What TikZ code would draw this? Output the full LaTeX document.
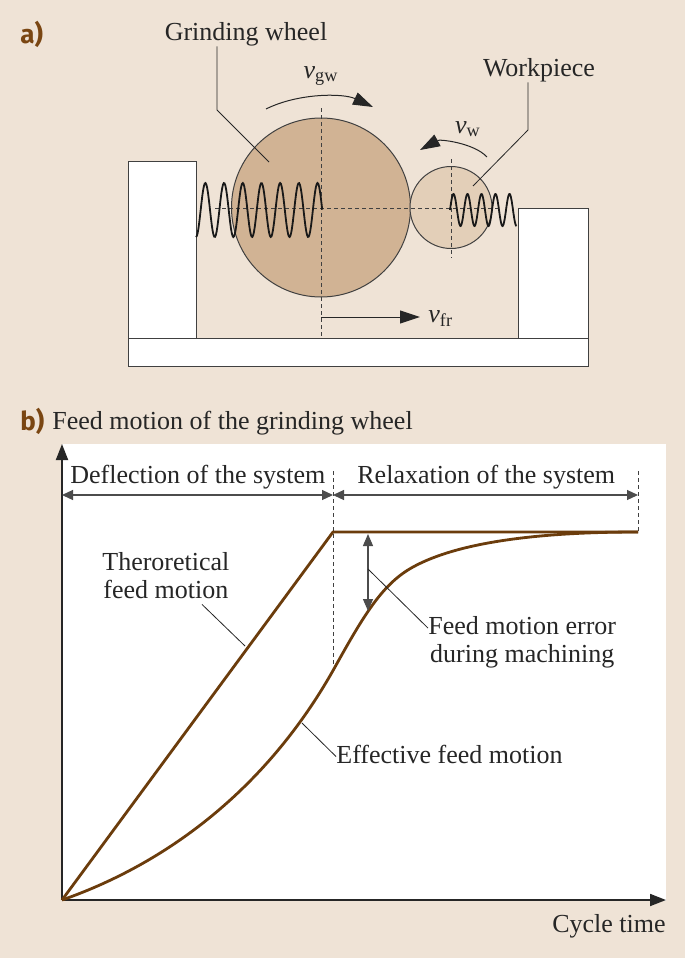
\documentclass[tikz,border=0pt]{standalone}
\usepackage{fontspec}
\setmainfont{Liberation Serif}
\newfontfamily\tagfont{Fira Sans}
\usetikzlibrary{arrows.meta,positioning}
\definecolor{paper}{HTML}{EFE3D6}
\definecolor{wheelfill}{HTML}{D1B394}
\definecolor{workfill}{HTML}{E3CFB8}
\definecolor{feedbrown}{HTML}{6B3C0C}
\definecolor{tagbrown}{HTML}{7A4612}
\definecolor{ink}{HTML}{262626}
\tikzstyle{txt} = [inner sep=0pt, text height=9.5pt, text depth=3pt, text=ink,
     font=\fontsize{13}{15}\selectfont]
\tikzstyle{tag} = [inner sep=0pt, text=tagbrown, font=\tagfont\bfseries\fontsize{13}{15}\selectfont]
\tikzstyle{block} = [draw=black!75, fill=white, line width=0.5pt]
\tikzstyle{disc} = [circle, draw=black!75, line width=0.5pt, inner sep=0pt]
\tikzstyle{centre} = [draw=black!75, line width=0.5pt, dash pattern=on 2pt off 1.5pt]
\tikzstyle{spring} = [draw=black!90, line width=0.9pt]
\tikzstyle{lead} = [draw=ink, line width=0.4pt]
\tikzstyle{spin} = [draw=ink, line width=0.5pt, -{Triangle[length=10pt,width=6.5pt]}]
\tikzstyle{feed} = [draw=feedbrown, line width=1.4pt, line join=round]
\tikzstyle{axis} = [draw=ink, line width=0.9pt, -{Triangle[length=8pt,width=6pt]}]
\tikzstyle{dim} = [draw=black!70, line width=0.6pt,
     {Triangle[length=5.5pt,width=5pt]}-{Triangle[length=5.5pt,width=5pt]}]
\tikzstyle{gap} = [draw=black!70, line width=0.6pt,
     {Triangle[length=6pt,width=5pt]}-{Triangle[length=6pt,width=5pt]}]

\begin{document}
\begin{tikzpicture}[x=0.5pt,y=-0.5pt]
\useasboundingbox (0,0) rectangle (685,958);
\fill[paper] (0,0) rectangle (685,958);

% a) grinding set-up
\node (tag_a) [tag, anchor=base west] at (20,43) {a)};
\draw[block] (128,338) rectangle (588,366);
\draw[block] (128,161) rectangle (196,338);
\draw[block] (518,208) rectangle (588,338);
\node (wheel) [disc, fill=wheelfill, minimum size=89.5pt] at (321,207.5) {};
\node (work) [disc, fill=workfill, minimum size=41pt] at (451,207.5) {};
\draw[centre] (215,208) -- (498,208);
\draw[centre] (321,108) -- (321,338);
\draw[centre] (451,159) -- (451,258);
% springs
\draw[spring] plot[domain=0:126.2, samples=160] ({196+\x},{210+27*cos(19.25*\x)});
\draw[spring] plot[domain=0:66.5, samples=120] ({450+\x},{210-16*sin(25.71*\x)});
% velocities
\draw[spin] (266,109) .. controls (298,93) and (343,93) .. (373,107);
\draw[spin] (487,157) .. controls (474,143) and (440,139) .. (420,150);
\coordinate (fr_start) at (321,317);
\coordinate (fr_end) at (420,317);
\draw[spin] (fr_start) -- (fr_end);
\node (v_gw) [txt, anchor=base] at (321,78) {\textit{v}\textsubscript{gw}};
\node (v_w) [txt, anchor=base] at (468,133) {\textit{v}\textsubscript{w}};
\node (v_fr) [txt, anchor=base west] at (428,322) {\textit{v}\textsubscript{fr}};
% names
\node (gw_label) [txt, anchor=base] at (246,40) {Grinding wheel};
\node (wp_label) [txt, anchor=base] at (539,76) {Workpiece};
\coordinate (gw_bend) at (217,110);
\coordinate (gw_tip) at (269,162);
\coordinate (wp_bend) at (528,130);
\coordinate (wp_tip) at (473,186);
\draw[lead] (gw_label.south -| gw_bend) -- (gw_bend) -- (gw_tip);
\draw[lead] (wp_label.south -| wp_bend) -- (wp_bend) -- (wp_tip);

% b) feed motion
\node (tag_b) [tag, anchor=base west] at (20,430) {b)};
\node (title_b) [txt, anchor=base west] at (52,429) {Feed motion of the grinding wheel};
\fill[white] (62,444) rectangle (666,901);
\coordinate (O) at (62,900);
\coordinate (y_end) at (62,444);
\coordinate (x_end) at (666,900);
\draw[axis] (O) -- (y_end);
\draw[axis] (O) -- (x_end);
\node (cycle) [txt, anchor=base east] at (666,932) {Cycle time};
% phases
\coordinate (kink) at (333,532);
\coordinate (settle) at (638,532);
\coordinate (d_left) at (62,495);
\coordinate (d_mid) at (333,495);
\coordinate (d_right) at (638,495);
\draw[centre] (333,471) -- (333,665);
\draw[centre] (638,471) -- (settle);
\draw[dim] (d_left) -- (d_mid);
\draw[dim] (d_mid) -- (d_right);
\node (defl) [txt, anchor=base west] at (70,483.5) {Deflection of the system};
\node (relax) [txt, anchor=base west] at (357,483.5) {Relaxation of the system};
% curves
\draw[feed] (O) -- (kink) -- (settle);
\draw[feed] (O) .. controls (172,861.5) and (270,784) .. (335,667)
  .. controls (365,613) and (383,583.5) .. (413,567)
  .. controls (458,542.25) and (538,532) .. (settle);
\coordinate (err_top) at (368,534);
\coordinate (err_bot) at (368,611);
\draw[gap] (err_top) -- (err_bot);
% labels
\node (theo1) [txt, anchor=base west] at (102,570) {Theroretical};
\node (theo2) [txt, below of=theo1, node distance=14pt] {feed motion};
\node (err1) [txt, anchor=base west] at (428,634.6) {Feed motion error};
\node (err2) [txt, below of=err1, node distance=14pt] {during machining};
\node (eff) [txt, anchor=base west] at (336,763) {Effective feed motion};
\coordinate (theo_a) at (202,604);
\coordinate (theo_b) at (245,646);
\coordinate (err_a) at (368,569);
\coordinate (eff_a) at (302,723);
\draw[lead] (theo2.south -| theo_a) -- (theo_b);
\draw[lead] (err_a) -- (err1.west);
\draw[lead] (eff_a) -- (eff.west);
\end{tikzpicture}
\end{document}
